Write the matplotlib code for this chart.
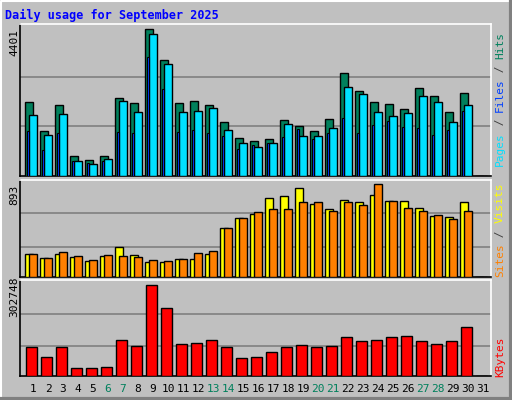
import matplotlib
matplotlib.use("Agg")
import matplotlib.pyplot as plt
from matplotlib.patches import Rectangle
from matplotlib.lines import Line2D

days = list(range(1, 32))
hits = [2210,1340,2120,590,470,590,2330,2180,4401,3470,2180,2240,2120,1610,1130,1040,1100,1670,1490,1340,1700,3080,2540,2210,2150,2000,2630,2390,1910,2480,0]
files = [1820,1220,1850,440,350,500,2250,1910,4250,3350,1910,1940,2030,1370,980,860,980,1550,1190,1190,1430,2660,2450,1910,1790,1880,2390,2210,1610,2120,0]
pages = [1340,770,1280,440,380,440,1310,1280,3560,2600,1310,1370,1280,1190,800,920,980,1160,1400,1100,1280,1730,1280,1520,1640,1460,1430,1220,1370,1940,0]
visits = [225,180,225,196,157,206,292,215,148,148,177,177,225,475,572,610,764,784,861,707,658,745,726,793,736,736,668,591,581,726,0]
sites = [225,186,244,206,167,215,206,196,167,157,177,234,254,475,572,623,658,658,726,726,639,726,697,893,736,668,639,601,562,639,0]
kbytes = [93160,59890,93160,23290,23290,26620,116450,96490,302748,222910,103140,106470,116450,93160,56560,63210,76520,93160,99810,93160,96490,126430,113120,116450,126430,129750,113120,103140,113120,159700,0]
weekend = [6, 7, 13, 14, 20, 21, 27, 28]
title = "Daily usage for September 2025"

W, H = 512, 400
BG = "#C0C0C0"
fig = plt.figure(figsize=(W/100, H/100), dpi=100, facecolor=BG)
mono = "DejaVu Sans Mono"

def ax_at(x0, y0, x1, y1):
    a = fig.add_axes([x0/W, 1-y1/H, (x1-x0)/W, (y1-y0)/H])
    a.set_facecolor(BG)
    a.set_xlim(1-13/15, 1-13/15+(x1-x0)/15)
    a.set_xticks([]); a.set_yticks([])
    for s in a.spines.values():
        s.set_linewidth(1.2)
    a.spines['left'].set_color('black'); a.spines['bottom'].set_color('black')
    a.spines['top'].set_color('white'); a.spines['right'].set_color('white')
    return a

def bars(a, vals, off, w, color, lw=1.0):
    a.bar([d+off for d in days], vals, width=w, align='edge', color=color,
          edgecolor='black', linewidth=lw, zorder=3)

# top panel
a1 = ax_at(20, 24, 491, 176)
m = 4401
a1.set_ylim(0, m*152/147)
for f in (0.337, 0.675):
    a1.axhline(m*f, color='#808080', lw=1.2, zorder=1)
bars(a1, hits, -7.7/15, 7.4/15, '#00805C')
bars(a1, files, -3.7/15, 7.4/15, '#00E0FF')
bars(a1, pages, -6.3/15, 2.6/15, '#0040FF', lw=0.8)

# middle panel
a2 = ax_at(20, 180, 491, 277)
m2 = 893
a2.set_ylim(0, m2*97/92.7)
for f in (0.327, 0.687):
    a2.axhline(m2*f, color='#808080', lw=1.2, zorder=1)
bars(a2, visits, -8/15, 8/15, '#FFFF00')
bars(a2, sites, -3.7/15, 7.4/15, '#FF8000')

# bottom panel
a3 = ax_at(20, 280, 491, 375.5)
m3 = 302748
a3.set_ylim(0, m3*95.5/91)
for f in (0.32, 0.68):
    a3.axhline(m3*f, color='#808080', lw=1.2, zorder=1)
bars(a3, kbytes, -6.7/15, 10.4/15, '#FF0000')

# day labels
for d in days:
    fig.text((33+(d-1)*15)/W, 1-389/H, str(d), ha='center', va='center',
             family=mono, fontsize=8,
             color='#00805C' if d in weekend else 'black')

# title
fig.text(5/W, 1-15/H, title, ha='left', va='center', family=mono, fontsize=8.5,
         weight='bold', color='#0000FF')

# y max labels
for txt, yc in (("4401", 42), ("893", 195), ("302748", 297)):
    fig.text(14/W, 1-yc/H, txt, rotation=90, ha='center', va='center',
             family=mono, fontsize=8, color='black')

def vlabel(parts, ybottom, x=500, step=6.7):
    y = ybottom
    for txt, col in parts:
        fig.text(x/W, 1-y/H, txt, rotation=90, ha='center', va='bottom',
                 family=mono, fontsize=8, color=col)
        y -= step*len(txt)

vlabel([("Pages", '#00E0FF'), (" / ", '#404040'), ("Files", '#0040FF'),
        (" / ", '#404040'), ("Hits", '#00805C')], 166)
vlabel([("Sites", '#FF8000'), (" / ", '#404040'), ("Visits", '#FFFF00')], 277)
vlabel([("KBytes", '#FF0000')], 377)

# outer border
fig.add_artist(Line2D([1/W, 1/W, 1-1/W], [0, 1-1/H, 1-1/H], color='white', lw=1.5))
fig.add_artist(Line2D([1/W, 1-1/W, 1-1/W], [1/H, 1/H, 1-1/H], color='#808080', lw=3))

fig.savefig("out.png", dpi=100, facecolor=BG)
